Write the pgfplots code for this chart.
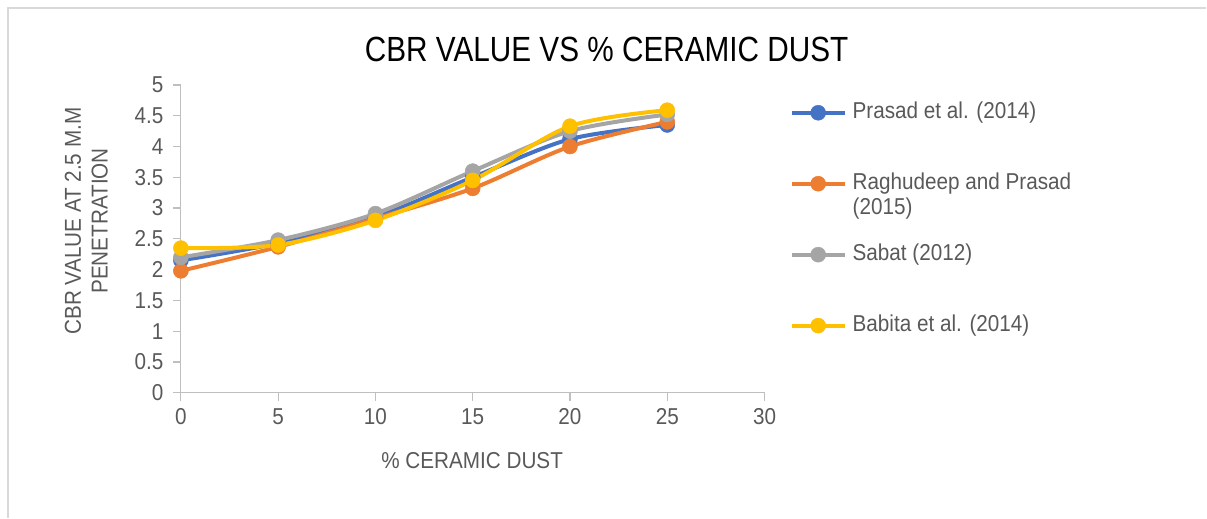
\documentclass[border=0pt]{standalone}
\usepackage{fontspec}
\setmainfont{Liberation Sans}[FakeStretch=0.9]
\newfontfamily\titlefont{Liberation Sans}[FakeStretch=0.85]
\usepackage{pgfplots}
\pgfplotsset{compat=1.18}
\definecolor{cblue}{HTML}{4472C4}
\definecolor{corange}{HTML}{ED7D31}
\definecolor{cgray}{HTML}{A5A5A5}
\definecolor{cyellow}{HTML}{FFC000}
\definecolor{axisgray}{HTML}{BFBFBF}
\definecolor{textgray}{HTML}{595959}
\begin{document}
\begin{tikzpicture}
\path (0bp,0bp) rectangle (1207bp,518bp);
\draw[color=black!15, line width=1.5bp] (8bp,0bp) -- (8bp,510bp) -- (1207bp,510bp);
\node[anchor=base, font=\titlefont\fontsize{35bp}{40bp}\selectfont] at (607bp,456bp) {CBR VALUE VS \% CERAMIC DUST};
\begin{axis}[
  at={(181bp,125bp)}, anchor=south west,
  width=584bp, height=308bp, scale only axis,
  xmin=0, xmax=30, ymin=0, ymax=5,
  xtick={0,5,10,15,20,25,30},
  ytick={0,0.5,1,1.5,2,2.5,3,3.5,4,4.5,5},
  axis lines*=left,
  axis line style={draw=axisgray, line width=1.2bp},
  tick style={draw=axisgray, line width=1.2bp},
  major tick length=8bp, tick align=outside,
  font=\fontsize{23bp}{27bp}\selectfont,
  ticklabel style={text=textgray, font=\fontsize{23bp}{27bp}\selectfont},
  /pgf/number format/assume math mode=true,
  yticklabel style={/pgf/number format/fixed, /pgf/number format/precision=1, xshift=-6bp},
  xticklabel style={yshift=-4bp},
  xlabel={\% CERAMIC DUST},
  ylabel={CBR VALUE AT 2.5 M.M\\PENETRATION},
  label style={text=textgray, font=\fontsize{23bp}{27bp}\selectfont},
  xlabel style={at={(axis description cs:0.499,-0.247)}, anchor=base},
  ylabel style={at={(axis description cs:-0.162,0.558)}, anchor=center, align=center},
  legend image code/.code={\draw[mark repeat=2,mark phase=2] plot coordinates {(0bp,0bp) (26.5bp,0bp) (53bp,0bp)};},
  legend cell align=left,
  legend style={at={(axis description cs:1.0428,0.946)}, anchor=north west, draw=none, fill=none,
    inner sep=0pt, row sep=49bp, column sep=6bp,
    nodes={inner sep=0pt, text height=17bp, text depth=5bp, text=textgray},
    font=\fontsize{23bp}{25bp}\selectfont},
  every axis plot/.append style={line width=4bp, smooth, tension=0.5},
  clip=false,
]
\addplot[color=cblue, mark=*, mark size=7.5bp, mark options={fill=cblue, draw=cblue, line width=0.5bp}]
  coordinates {(0,2.15) (5,2.43) (10,2.85) (15,3.5) (20,4.12) (25,4.35)};
\addlegendentry{Prasad et al. (2014)}
\addplot[color=corange, mark=*, mark size=7.5bp, mark options={fill=corange, draw=corange, line width=0.5bp}]
  coordinates {(0,1.98) (5,2.37) (10,2.83) (15,3.32) (20,4.0) (25,4.4)};
\addlegendentry{\begin{tabular}[t]{@{}l@{}}Raghudeep and Prasad\\(2015)\end{tabular}}
\addplot[color=cgray, mark=*, mark size=7.5bp, mark options={fill=cgray, draw=cgray, line width=0.5bp}]
  coordinates {(0,2.2) (5,2.48) (10,2.91) (15,3.6) (20,4.25) (25,4.52)};
\addlegendentry{Sabat (2012)}
\addplot[color=cyellow, mark=*, mark size=7.5bp, mark options={fill=cyellow, draw=cyellow, line width=0.5bp}]
  coordinates {(0,2.35) (5,2.4) (10,2.8) (15,3.45) (20,4.33) (25,4.59)};
\addlegendentry{Babita et al. (2014)}
\end{axis}
\end{tikzpicture}
\end{document}
